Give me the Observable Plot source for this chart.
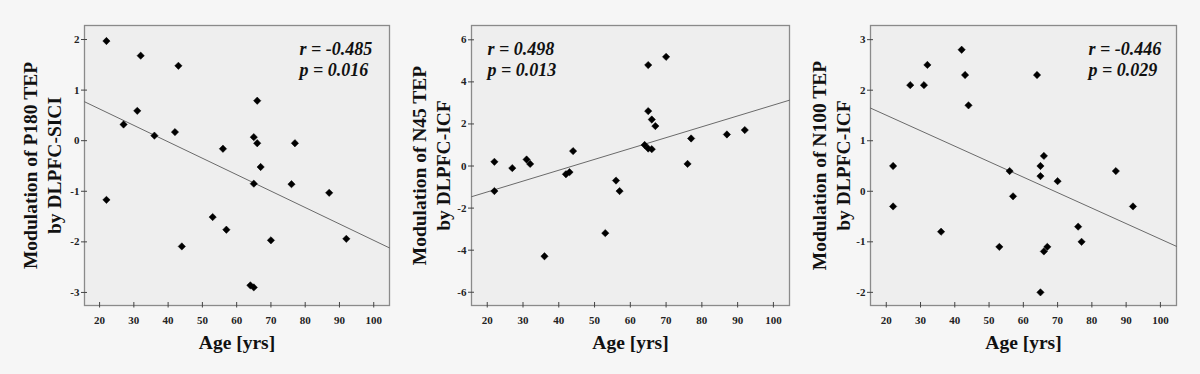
<!DOCTYPE html>
<html><head><meta charset="utf-8">
<script src="https://cdn.jsdelivr.net/npm/d3@7"></script>
<script src="https://cdn.jsdelivr.net/npm/@observablehq/plot@0.6"></script>
<style>
body{margin:0;background:#f6f6f6;}
#wrap{position:relative;width:1200px;height:374px;overflow:hidden;}
.panel{position:absolute;top:0;}
</style></head><body><div id="wrap"></div>
<script>
// Panel 1: P180 TEP by DLPFC-SICI
const age1 = [22,32,43,66,31,27,36,42,56,65,66,77,67,65,76,87,22,53,57,44,70,92,64,65];
const val1 = [1.97,1.68,1.48,0.79,0.59,0.32,0.10,0.17,-0.16,0.07,-0.05,-0.05,-0.52,-0.85,-0.86,-1.03,-1.17,-1.51,-1.76,-2.09,-1.97,-1.94,-2.86,-2.90];
const fitX1 = [15.6, 104.6];
const fitY1 = [0.77, -2.12];
const yTicks1 = [-3,-2,-1,0,1,2];

// Panel 2: N45 TEP by DLPFC-ICF
const age2 = [70,65,65,66,67,64,65,66,77,87,92,76,22,22,27,31,32,42,43,44,56,57,53,36];
const val2 = [5.19,4.80,2.61,2.21,1.90,1.00,0.83,0.80,1.31,1.50,1.71,0.10,0.20,-1.19,-0.10,0.31,0.10,-0.39,-0.29,0.71,-0.69,-1.19,-3.19,-4.29];
const fitX2 = [15.6, 104.5];
const fitY2 = [-1.46, 3.13];
const yTicks2 = [-6,-4,-2,0,2,4,6];

// Panel 3: N100 TEP by DLPFC-ICF
const age3 = [42,32,27,31,43,64,44,22,22,36,56,57,65,65,66,70,87,92,76,77,53,67,66,65];
const val3 = [2.80,2.50,2.10,2.10,2.30,2.30,1.70,0.50,-0.30,-0.80,0.40,-0.10,0.50,0.30,0.70,0.20,0.40,-0.30,-0.70,-1.00,-1.10,-1.10,-1.19,-2.00];
const fitX3 = [15.4, 104.7];
const fitY3 = [1.646, -1.09];
const yTicks3 = [-2,-1,0,1,2,3];

const xTicks = [20,30,40,50,60,70,80,90,100];
const yLabels = ["Modulation of P180 TEP\nby DLPFC-SICI","Modulation of N45 TEP\nby DLPFC-ICF","Modulation of N100 TEP\nby DLPFC-ICF"];
const stats = ["r = -0.485\np = 0.016","r = 0.498\np = 0.013","r = -0.446\np = 0.029"];
const xLabel = "Age [yrs]";

const panels = [
  {age: age1, val: val1, fx: fitX1, fy: fitY1, yt: yTicks1, xd:[15.6,104.6], yd:[-3.258,2.277], left:0, ml:84, mr:11, sdx:215, ydx:-43.5},
  {age: age2, val: val2, fx: fitX2, fy: fitY2, yt: yTicks2, xd:[15.6,104.5], yd:[-6.63,6.68], left:400, ml:71, mr:11, sdx:16, ydx:-41},
  {age: age3, val: val3, fx: fitX3, fy: fitY3, yt: yTicks3, xd:[15.4,104.7], yd:[-2.26,3.28], left:800, ml:70, mr:24, sdx:218, ydx:-40.5}
];

const serif = "'Liberation Serif','Times New Roman',serif";
const fmt = d => String(d);
const wrap = document.getElementById("wrap");

panels.forEach((p, i) => {
  const pts = p.age.map((a, j) => ({age: a, v: p.val[j]}));
  const fit = p.fx.map((x, j) => ({x, y: p.fy[j]}));
  const chart = Plot.plot({
    width: 400,
    height: 374,
    marginLeft: p.ml,
    marginRight: p.mr,
    marginTop: 25,
    marginBottom: 69,
    style: {background: "transparent", fontFamily: serif, color: "#222"},
    x: {domain: p.xd, ticks: xTicks, label: null},
    y: {domain: p.yd, ticks: p.yt, label: null},
    marks: [
      Plot.frame({fill: "#eeeeee", stroke: null}),
      Plot.frame({stroke: "#8a8a8a", strokeWidth: 1.3}),
      Plot.axisX({ticks: xTicks, tickSize: 5.5, dy: -3, tickFormat: () => "", stroke: "#444", label: null}),
      Plot.axisX({ticks: xTicks, tickSize: 0, tickPadding: 11, tickFormat: fmt, fontSize: 11, fontWeight: "bold", fill: "#222", label: null}),
      Plot.axisY({ticks: p.yt, tickSize: 6, dx: 3, tickFormat: () => "", stroke: "#444", label: null}),
      Plot.axisY({ticks: p.yt, tickSize: 0, tickPadding: 5, tickFormat: fmt, fontSize: 11, fontWeight: "bold", fill: "#222", label: null}),
      Plot.line(fit, {x: "x", y: "y", stroke: "#6a6a6a", strokeWidth: 1}),
      Plot.dot(pts, {x: "age", y: "v", symbol: "diamond2", r: 3.3, fill: "#000", stroke: "#000", strokeWidth: 0.5}),
      Plot.text([stats[i]], {frameAnchor: "top-left", dx: p.sdx, dy: 14, text: d => d, textAnchor: "start", lineAnchor: "top", lineHeight: 1.2, fontSize: 18, fontWeight: "bold", fontStyle: "italic", fill: "#111"}),
      Plot.text([yLabels[i]], {frameAnchor: "left", dx: p.ydx, text: d => d, rotate: -90, textAnchor: "middle", lineAnchor: "middle", lineHeight: 1.25, fontSize: 19.5, fontWeight: "bold", fill: "#111"}),
      Plot.text([xLabel], {frameAnchor: "bottom", dy: 37, text: d => d, textAnchor: "middle", lineAnchor: "middle", fontSize: 19.5, fontWeight: "bold", fill: "#111"})
    ]
  });
  chart.classList.add("panel");
  chart.style.left = p.left + "px";
  chart.style.overflow = "visible";
  wrap.appendChild(chart);
});
</script></body></html>
